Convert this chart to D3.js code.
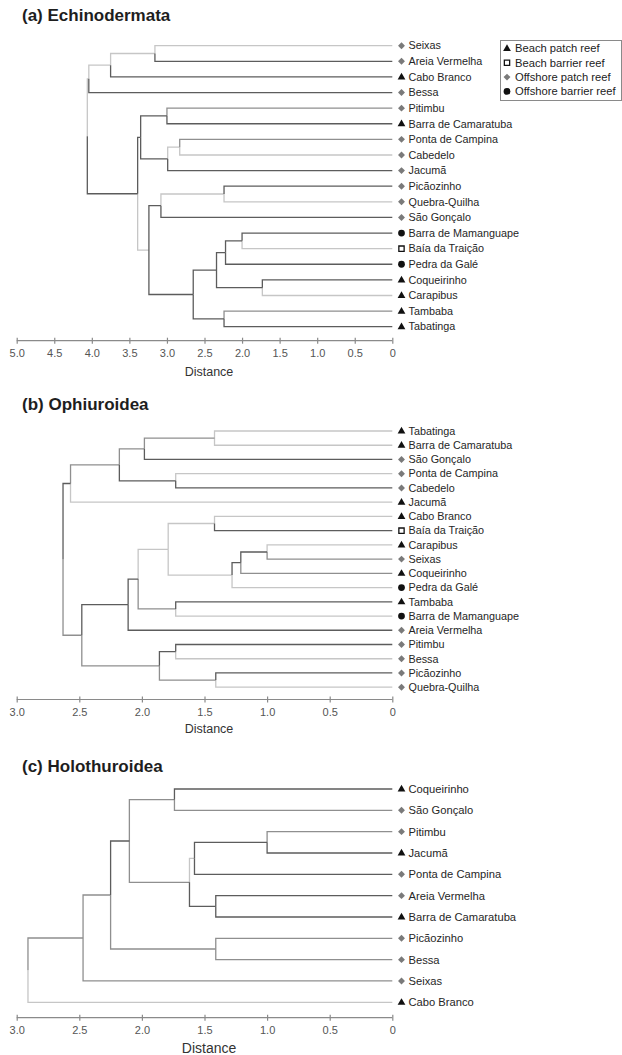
<!DOCTYPE html>
<html>
<head>
<meta charset="utf-8">
<script src="https://cdn.jsdelivr.net/npm/d3@7"></script>
<style>
  body { margin: 0; background: #fff; }
  svg { display: block; font-family: Arial, "Liberation Sans", sans-serif; }
</style>
</head>
<body>
<svg width="622" height="1055"></svg>
<script>
// ---- data (a) Echinodermata ----
var namesA = ["Seixas", "Areia Vermelha", "Cabo Branco", "Bessa", "Pitimbu", "Barra de Camaratuba",
  "Ponta de Campina", "Cabedelo", "Jacumã", "Picãozinho", "Quebra-Quilha", "São Gonçalo",
  "Barra de Mamanguape", "Baía da Traição", "Pedra da Galé", "Coqueirinho", "Carapibus", "Tambaba", "Tabatinga"];
var typesA = ["dia", "dia", "tri", "dia", "dia", "tri", "dia", "dia", "dia", "dia", "dia", "dia",
  "dot", "sq", "dot", "tri", "tri", "tri", "tri"];
// merges: [left, right, distance]; string = leaf, number = earlier merge
var mergesA = [
  ["Seixas", "Areia Vermelha", 3.16],
  [0, "Cabo Branco", 3.75],
  [1, "Bessa", 4.04],
  ["Pitimbu", "Barra de Camaratuba", 3.00],
  ["Ponta de Campina", "Cabedelo", 2.83],
  [4, "Jacumã", 2.99],
  [3, 5, 3.35],
  ["Picãozinho", "Quebra-Quilha", 2.24],
  [7, "São Gonçalo", 3.08],
  ["Barra de Mamanguape", "Baía da Traição", 2.00],
  [9, "Pedra da Galé", 2.22],
  ["Coqueirinho", "Carapibus", 1.73],
  [10, 11, 2.34],
  ["Tambaba", "Tabatinga", 2.24],
  [12, 13, 2.65],
  [8, 14, 3.24],
  [6, 15, 3.39],
  [2, 16, 4.06]
];
var ticksA = [5.0, 4.5, 4.0, 3.5, 3.0, 2.5, 2.0, 1.5, 1.0, 0.5, 0];

// ---- data (b) Ophiuroidea ----
var namesB = ["Tabatinga", "Barra de Camaratuba", "São Gonçalo", "Ponta de Campina", "Cabedelo", "Jacumã",
  "Cabo Branco", "Baía da Traição", "Carapibus", "Seixas", "Coqueirinho", "Pedra da Galé", "Tambaba",
  "Barra de Mamanguape", "Areia Vermelha", "Pitimbu", "Bessa", "Picãozinho", "Quebra-Quilha"];
var typesB = ["tri", "tri", "dia", "dia", "dia", "tri", "tri", "sq", "tri", "dia", "tri", "dot", "tri",
  "dot", "dia", "dia", "dia", "dia", "dia"];
var mergesB = [
  ["Tabatinga", "Barra de Camaratuba", 1.42],
  [0, "São Gonçalo", 1.98],
  ["Ponta de Campina", "Cabedelo", 1.73],
  [1, 2, 2.18],
  [3, "Jacumã", 2.57],
  ["Cabo Branco", "Baía da Traição", 1.42],
  ["Carapibus", "Seixas", 1.00],
  [6, "Coqueirinho", 1.21],
  [7, "Pedra da Galé", 1.28],
  [5, 8, 1.79],
  ["Tambaba", "Barra de Mamanguape", 1.73],
  [9, 10, 2.03],
  [11, "Areia Vermelha", 2.11],
  ["Pitimbu", "Bessa", 1.73],
  ["Picãozinho", "Quebra-Quilha", 1.41],
  [13, 14, 1.86],
  [12, 15, 2.48],
  [4, 16, 2.63]
];

// ---- data (c) Holothuroidea ----
var namesC = ["Coqueirinho", "São Gonçalo", "Pitimbu", "Jacumã", "Ponta de Campina", "Areia Vermelha",
  "Barra de Camaratuba", "Picãozinho", "Bessa", "Seixas", "Cabo Branco"];
var typesC = ["tri", "dia", "dia", "tri", "dia", "dia", "tri", "dia", "dia", "dia", "tri"];
var mergesC = [
  ["Coqueirinho", "São Gonçalo", 1.74],
  ["Pitimbu", "Jacumã", 1.00],
  [1, "Ponta de Campina", 1.58],
  ["Areia Vermelha", "Barra de Camaratuba", 1.41],
  [2, 3, 1.62],
  [0, 4, 2.10],
  ["Picãozinho", "Bessa", 1.41],
  [5, 6, 2.25],
  [7, "Seixas", 2.47],
  [8, "Cabo Branco", 2.91]
];
var ticksBC = [3.0, 2.5, 2.0, 1.5, 1.0, 0.5, 0];

var legendTypes = ["tri", "sq", "dia", "dot"];
var legendLabels = ["Beach patch reef", "Beach barrier reef", "Offshore patch reef", "Offshore barrier reef"];

// ---- line shades (0 dark, 1 mid, 2 light) ----
var shadeLeafA = [2, 0, 0, 0, 1, 0, 1, 2, 0, 0, 2, 0, 0, 2, 0, 0, 2, 1, 0];
var shadeMergeA = [2, 2, 2, 0, 2, 0, 0, 2, 0, 0, 0, 0, 0, 0, 0, 2, 0, 0];
var shadeLeafB = [2, 2, 0, 2, 0, 2, 2, 0, 2, 1, 1, 2, 0, 2, 0, 0, 2, 0, 2];
var shadeMergeB = [1, 1, 0, 1, 0, 2, 0, 0, 2, 2, 1, 0, 0, 0, 1, 1, 1, 1];
var shadeLeafC = [0, 1, 1, 0, 0, 0, 0, 1, 1, 1, 2];
var shadeMergeC = [1, 0, 2, 0, 1, 0, 1, 1, 1, 1];
var shadeColor = ["#5c5c5c", "#8f8f8f", "#c6c6c6"];

var svg = d3.select("svg");

function buildTree(names, merges) {
  var nodes = merges.map(function(m, k) { return {merge: k, height: m[2]}; });
  function ref(r) {
    return typeof r === "number" ? nodes[r] : {name: r, height: 0};
  }
  merges.forEach(function(m, k) { nodes[k].children = [ref(m[0]), ref(m[1])]; });
  return d3.hierarchy(nodes[nodes.length - 1]);
}

function marker(g, type, x, y) {
  if (type == "tri") {
    g.append("path").attr("d", d3.symbol(d3.symbolTriangle, 26)())
      .attr("transform", "translate(" + x + "," + (y + 0.3) + ")").attr("fill", "#111");
  } else if (type == "sq") {
    g.append("path").attr("d", d3.symbol(d3.symbolSquare, 28)())
      .attr("transform", "translate(" + x + "," + y + ")")
      .attr("fill", "#fff").attr("stroke", "#111").attr("stroke-width", 1.3);
  } else if (type == "dia") {
    g.append("path").attr("d", d3.symbol(d3.symbolSquare, 24)())
      .attr("transform", "translate(" + x + "," + y + ") rotate(45)").attr("fill", "#7a7a7a");
  } else {
    g.append("path").attr("d", d3.symbol(d3.symbolCircle, 36)())
      .attr("transform", "translate(" + x + "," + y + ")").attr("fill", "#111");
  }
}

function drawPanel(p) {
  var g = svg.append("g");

  g.append("text")
    .attr("x", 22).attr("y", p.titleY)
    .style("font-size", "17px").style("font-weight", "bold").attr("fill", "#1e1e1e")
    .text(p.title);

  var xScale = d3.scaleLinear().domain([p.ticks[0], 0]).range([16.7, 392.3]);
  var yScale = d3.scalePoint().domain(p.names).range([p.yTop, p.yBottom]);

  var root = buildTree(p.names, p.merges);
  root.eachAfter(function(n) {
    if (n.children) {
      n.py = (n.children[0].py + n.children[1].py) / 2;
    } else {
      n.py = yScale(n.data.name);
    }
    n.px = xScale(n.data.height);
    n.shade = n.children ? p.shadeMerge[n.data.merge] : p.shadeLeaf[p.names.indexOf(n.data.name)];
  });

  var links = root.descendants().filter(function(d) { return d.parent; });
  links.sort(function(a, b) { return b.shade - a.shade; });

  g.selectAll(".link")
    .data(links)
    .enter()
    .append("path")
    .attr("class", "link")
    .attr("fill", "none")
    .attr("stroke", function(d) { return shadeColor[d.shade]; })
    .attr("stroke-width", 1.3)
    .attr("d", function(d) {
      return "M" + d.parent.px + "," + d.parent.py + "V" + d.py + "H" + d.px;
    });

  // leaf markers and labels
  p.names.forEach(function(name, i) {
    var yy = yScale(name);
    marker(g, p.types[i], 401.5, yy);
    g.append("text")
      .attr("x", 408.5).attr("y", yy).attr("dy", "0.35em")
      .style("font-size", p.labelSize + "px").attr("fill", "#262626")
      .text(name);
  });

  // axis
  var axis = g.append("g")
    .attr("class", "x axis")
    .attr("transform", "translate(0," + p.axisY + ")")
    .call(d3.axisBottom(xScale)
      .tickValues(p.ticks)
      .tickSize(3)
      .tickPadding(6)
      .tickFormat(function(d) { return d === 0 ? "0" : d.toFixed(1); }));
  axis.select(".domain").attr("stroke", "#8a8a8a").attr("stroke-width", 1.2).attr("d", "M16.7,0H392.3");
  axis.selectAll(".tick line").attr("stroke", "#8a8a8a").attr("stroke-width", 1.2).attr("y1", -3).attr("y2", 3);
  axis.selectAll(".tick text").style("font-size", "11px").style("font-family", "Arial, 'Liberation Sans', sans-serif").attr("fill", "#555");

  g.append("text")
    .attr("x", 209).attr("y", p.axisY + p.distDy)
    .attr("text-anchor", "middle")
    .style("font-size", p.distSize + "px").attr("fill", "#333")
    .text("Distance");
}

drawPanel({
  title: "(a) Echinodermata", titleY: 21,
  names: namesA, types: typesA, merges: mergesA, ticks: ticksA,
  shadeLeaf: shadeLeafA, shadeMerge: shadeMergeA,
  yTop: 45.7, yBottom: 326.7, axisY: 340.7, distDy: 35, distSize: 12.5, labelSize: 10.8
});

drawPanel({
  title: "(b) Ophiuroidea", titleY: 410,
  names: namesB, types: typesB, merges: mergesB, ticks: ticksBC,
  shadeLeaf: shadeLeafB, shadeMerge: shadeMergeB,
  yTop: 431, yBottom: 687.2, axisY: 699.5, distDy: 33, distSize: 12.5, labelSize: 10.8
});

drawPanel({
  title: "(c) Holothuroidea", titleY: 772,
  names: namesC, types: typesC, merges: mergesC, ticks: ticksBC,
  shadeLeaf: shadeLeafC, shadeMerge: shadeMergeC,
  yTop: 789, yBottom: 1002.3, axisY: 1017.7, distDy: 35, distSize: 14, labelSize: 11.2
});

// legend (panel a)
var legend = svg.append("g").attr("class", "legend");
legend.append("rect")
  .attr("x", 500.5).attr("y", 40.5).attr("width", 121).attr("height", 60)
  .attr("fill", "#fff").attr("stroke", "#8a8a8a").attr("stroke-width", 1);
legendLabels.forEach(function(lab, i) {
  var yy = 48.5 + i * 14.3;
  marker(legend, legendTypes[i], 507, yy);
  legend.append("text")
    .attr("x", 515).attr("y", yy).attr("dy", "0.35em")
    .style("font-size", "11.2px").attr("fill", "#222")
    .text(lab);
});
</script>
</body>
</html>
